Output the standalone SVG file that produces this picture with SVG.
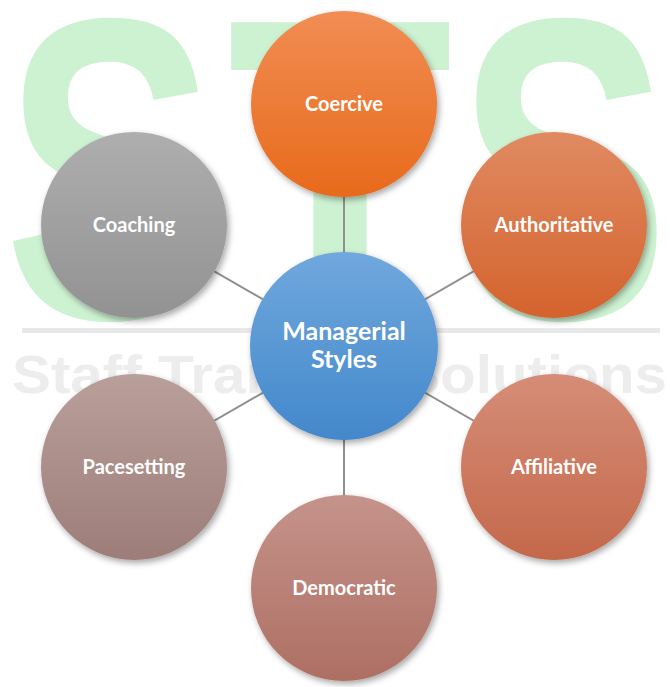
<svg xmlns="http://www.w3.org/2000/svg" width="670" height="687" viewBox="0 0 670 687">
<style>
.wm{font-family:"Liberation Sans",Arial,sans-serif;font-weight:bold;fill:#CDF2D1}
.wm2{font-family:"Liberation Sans",Arial,sans-serif;font-weight:bold;fill:#EDEDED}
.lbl{font-family:Lato,"Open Sans",sans-serif;font-weight:bold;fill:#FFFFFF;font-size:20px;text-anchor:middle}
.big{font-size:25px}
.conn line{stroke:#8F8F8F;stroke-width:2}
.node circle{filter:url(#sh)}
</style>
<defs>
<filter id="sh" x="-20%" y="-20%" width="140%" height="140%">
<feDropShadow dx="2" dy="3" stdDeviation="3" flood-color="#000" flood-opacity="0.35"/>
</filter>
<linearGradient id="gCo" x1="0" y1="0" x2="0" y2="1"><stop offset="0" stop-color="#F18D54"/><stop offset="1" stop-color="#E86A1B"/></linearGradient>
<linearGradient id="gAu" x1="0" y1="0" x2="0" y2="1"><stop offset="0" stop-color="#E08A62"/><stop offset="1" stop-color="#D4632D"/></linearGradient>
<linearGradient id="gCa" x1="0" y1="0" x2="0" y2="1"><stop offset="0" stop-color="#AEAEAE"/><stop offset="1" stop-color="#929292"/></linearGradient>
<linearGradient id="gMs" x1="0" y1="0" x2="0" y2="1"><stop offset="0" stop-color="#70A8DD"/><stop offset="1" stop-color="#4388CB"/></linearGradient>
<linearGradient id="gPa" x1="0" y1="0" x2="0" y2="1"><stop offset="0" stop-color="#B99F9A"/><stop offset="1" stop-color="#9D7D79"/></linearGradient>
<linearGradient id="gAf" x1="0" y1="0" x2="0" y2="1"><stop offset="0" stop-color="#D58D77"/><stop offset="1" stop-color="#C4684B"/></linearGradient>
<linearGradient id="gDe" x1="0" y1="0" x2="0" y2="1"><stop offset="0" stop-color="#C5938B"/><stop offset="1" stop-color="#AE6F63"/></linearGradient>
</defs>
<rect width="670" height="687" fill="#FFFFFF"/>
<g id="watermark">
<text class="wm" font-size="430" text-anchor="middle" transform="translate(110,318) scale(0.74,1)">S</text>
<text class="wm" font-size="430" text-anchor="middle" transform="translate(340,318) scale(0.86,1)">T</text>
<text class="wm" font-size="430" text-anchor="middle" transform="translate(563,318) scale(0.74,1)">S</text>
<rect x="22" y="328" width="638" height="5" fill="#E8E8E8"/>
<text class="wm2" x="12" y="393" font-size="53" textLength="655" lengthAdjust="spacingAndGlyphs">Staff Training Solutions</text>
</g>
<g id="connectors" class="conn">
<line x1="344" y1="346" x2="344" y2="104"/>
<line x1="344" y1="346" x2="554" y2="225"/>
<line x1="344" y1="346" x2="554" y2="467"/>
<line x1="344" y1="346" x2="344" y2="588"/>
<line x1="344" y1="346" x2="134" y2="467"/>
<line x1="344" y1="346" x2="134" y2="225"/>
</g>
<g id="coercive" class="node"><circle cx="344" cy="104" r="93" fill="url(#gCo)"/><text class="lbl" x="344" y="111">Coercive</text></g>
<g id="authoritative" class="node"><circle cx="554" cy="225" r="93" fill="url(#gAu)"/><text class="lbl" x="554" y="232">Authoritative</text></g>
<g id="affiliative" class="node"><circle cx="554" cy="467" r="93" fill="url(#gAf)"/><text class="lbl" x="554" y="474">Affiliative</text></g>
<g id="democratic" class="node"><circle cx="344" cy="588" r="93" fill="url(#gDe)"/><text class="lbl" x="344" y="595">Democratic</text></g>
<g id="pacesetting" class="node"><circle cx="134" cy="467" r="93" fill="url(#gPa)"/><text class="lbl" x="134" y="474">Pacesetting</text></g>
<g id="coaching" class="node"><circle cx="134" cy="225" r="93" fill="url(#gCa)"/><text class="lbl" x="134" y="232">Coaching</text></g>
<g id="managerial-styles" class="node"><circle cx="344" cy="346" r="94" fill="url(#gMs)"/><text class="lbl big" x="344" y="340">Managerial</text><text class="lbl big" x="344" y="368">Styles</text></g>
</svg>
